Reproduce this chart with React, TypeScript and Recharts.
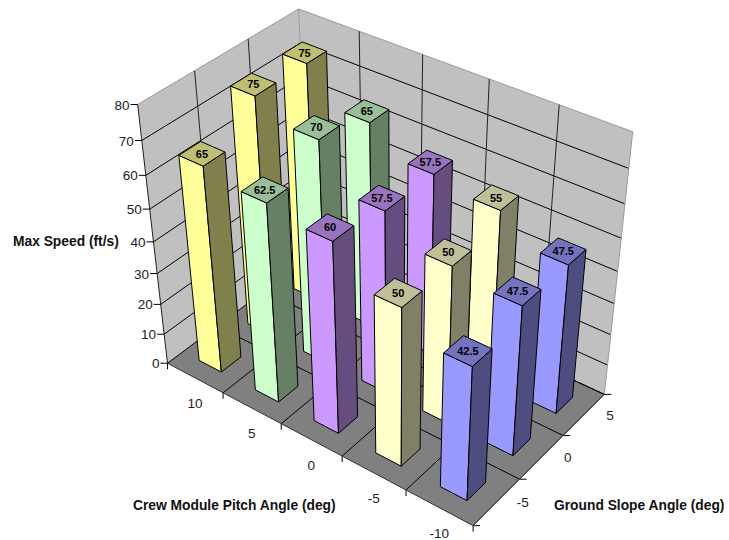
import * as React from "react"
import { ScatterChart, Scatter, XAxis, YAxis, Customized } from "recharts"

const CHART_W = 729
const CHART_H = 540

const pitchAngles = [10, 5, 0, -5, -10]
const slopeAngles = [-5, 0, 5]
const speedTicks = [0, 10, 20, 30, 40, 50, 60, 70, 80]

const speedAtPitch10 = [65, 75, 75]
const speedAtPitch5 = [62.5, 70, 65]
const speedAtPitch0 = [60, 57.5, 57.5]
const speedAtPitchMinus5 = [50, 50, 55]
const speedAtPitchMinus10 = [42.5, 47.5, 47.5]

const speedRows = [speedAtPitch10, speedAtPitch5, speedAtPitch0, speedAtPitchMinus5, speedAtPitchMinus10]
const pitchColors = ["#FFFF99", "#CCFFCC", "#CC99FF", "#FFFFCC", "#9999FF"]

const SPEED_MAX = 80
const BAR_DU = 0.08
const BAR_DV = 0.132

type Pt = [number, number]

// 3x4 camera for the box: u along pitch, v along slope, w up the speed axis (all 0..1)
const camX = [253.2639, 167.33276, -45.81048, 167.47899]
const camY = [104.2153, -83.68188, -270.87471, 363.24577]
const camZ = [-0.11068, 0.08378, -0.1161, 1]

function project(u: number, v: number, w: number): Pt {
  const d = camZ[0] * u + camZ[1] * v + camZ[2] * w + camZ[3]
  return [
    (camX[0] * u + camX[1] * v + camX[2] * w + camX[3]) / d,
    (camY[0] * u + camY[1] * v + camY[2] * w + camY[3]) / d,
  ]
}

const toPoints = (pts: Pt[]) => pts.map((p) => `${p[0].toFixed(2)},${p[1].toFixed(2)}`).join(" ")

function shade(hex: string, k: number) {
  const n = parseInt(hex.slice(1), 16)
  const c = [(n >> 16) & 255, (n >> 8) & 255, n & 255].map((v) => Math.round(v * k))
  return `rgb(${c[0]},${c[1]},${c[2]})`
}

function Line3D({ a, b, stroke = "#000", width = 1 }: { a: Pt; b: Pt; stroke?: string; width?: number }) {
  return <line x1={a[0]} y1={a[1]} x2={b[0]} y2={b[1]} stroke={stroke} strokeWidth={width} />
}

const FONT = "Liberation Sans, Arial, sans-serif"
const tickStyle = { fontFamily: FONT, fontSize: 13.5, fill: "#222" }
const titleStyle = { fontFamily: FONT, fontSize: 13.8, fontWeight: 700, fill: "#111" }
const EDGE = "#9a9a9a"

// walls, floor, grid, tick marks and titles
function Box3D() {
  const grid: React.ReactNode[] = []
  speedTicks.forEach((t) => {
    const w = t / SPEED_MAX
    grid.push(<Line3D key={`lw${t}`} a={project(0, 0, w)} b={project(0, 1, w)} stroke={t === SPEED_MAX ? EDGE : "#000"} />)
    grid.push(<Line3D key={`bw${t}`} a={project(0, 1, w)} b={project(1, 1, w)} stroke={t === SPEED_MAX ? EDGE : "#000"} />)
  })
  for (let i = 0; i <= pitchAngles.length; i++) {
    const u = i / pitchAngles.length
    if (i > 0) {
      grid.push(<Line3D key={`fu${i}`} a={project(u, 0, 0)} b={project(u, 1, 0)} />)
      grid.push(<Line3D key={`wu${i}`} a={project(u, 1, 0)} b={project(u, 1, 1)} stroke={i === pitchAngles.length ? EDGE : "#222"} />)
    }
    const p = project(u, 0, 0)
    grid.push(<Line3D key={`tu${i}`} a={p} b={[p[0], p[1] + 6]} />)
  }
  for (let j = 0; j <= slopeAngles.length; j++) {
    const v = j / slopeAngles.length
    if (j > 0) {
      grid.push(<Line3D key={`fv${j}`} a={project(0, v, 0)} b={project(1, v, 0)} />)
      grid.push(<Line3D key={`wv${j}`} a={project(0, v, 0)} b={project(0, v, 1)} stroke={j === slopeAngles.length ? EDGE : "#222"} />)
    }
    const p = project(1, v, 0)
    grid.push(<Line3D key={`tv${j}`} a={p} b={[p[0] + 7, p[1]]} />)
  }
  return (
    <g>
      <polygon points={toPoints([project(0, 0, 0), project(0, 1, 0), project(0, 1, 1), project(0, 0, 1)])} fill="#C0C0C0" />
      <polygon points={toPoints([project(0, 1, 0), project(1, 1, 0), project(1, 1, 1), project(0, 1, 1)])} fill="#C0C0C0" />
      <polygon points={toPoints([project(0, 0, 0), project(1, 0, 0), project(1, 1, 0), project(0, 1, 0)])} fill="#808080" />
      {grid}
      <Line3D a={project(0, 0, 0)} b={project(0, 0, 1)} stroke="#222" />
      <Line3D a={project(0, 0, 0)} b={project(1, 0, 0)} stroke="#333" />
      <Line3D a={project(1, 0, 0)} b={project(1, 1, 0)} stroke="#555" />
      {speedTicks.map((t) => {
        const p = project(0, 0, t / SPEED_MAX)
        return (
          <g key={t}>
            <Line3D a={[p[0] - 7, p[1]]} b={p} />
            <text x={p[0] - 8} y={p[1] + 5} textAnchor="end" {...tickStyle}>{t}</text>
          </g>
        )
      })}
      {pitchAngles.map((a, i) => {
        const p = project((i + 0.5) / pitchAngles.length, 0, 0)
        return <text key={a} x={p[0]} y={p[1] + 30} textAnchor="middle" {...tickStyle}>{a}</text>
      })}
      {slopeAngles.map((a, j) => {
        const p = project(1, (j + 0.5) / slopeAngles.length, 0)
        return <text key={a} x={p[0] + 26} y={p[1] + 5} textAnchor="middle" {...tickStyle}>{a}</text>
      })}
      <text x={13} y={246} {...titleStyle}>Max Speed (ft/s)</text>
      <text x={133} y={510} {...titleStyle}>Crew Module Pitch Angle (deg)</text>
      <text x={554} y={510} {...titleStyle}>Ground Slope Angle (deg)</text>
    </g>
  )
}

// one column: left face, right face, cap and its value label
function BarShape(props: any) {
  const { cx, cy, payload, fill } = props
  const { uc, vc, speed } = payload
  const w = speed / SPEED_MAX
  const base = project(uc, vc, 0)
  const ox = cx - base[0]
  const oy = cy - base[1]
  const at = (u: number, v: number, ww: number): Pt => {
    const p = project(u, v, ww)
    return [p[0] + ox, p[1] + oy]
  }
  const u0 = uc - BAR_DU / 2
  const u1 = uc + BAR_DU / 2
  const v0 = vc - BAR_DV / 2
  const v1 = vc + BAR_DV / 2
  const label = at(uc, vc, w)
  return (
    <g>
      <polygon points={toPoints([at(u0, v0, 0), at(u1, v0, 0), at(u1, v0, w), at(u0, v0, w)])} fill={fill} stroke="#000" />
      <polygon points={toPoints([at(u1, v0, 0), at(u1, v1, 0), at(u1, v1, w), at(u1, v0, w)])} fill={shade(fill, 0.5)} stroke="#000" />
      <polygon points={toPoints([at(u0, v0, w), at(u1, v0, w), at(u1, v1, w), at(u0, v1, w)])} fill={shade(fill, 0.75)} stroke="#000" />
      <text x={label[0]} y={label[1] + 4} textAnchor="middle" fontFamily={FONT} fontSize={11} fontWeight={700} fill="#000">
        {speed}
      </text>
    </g>
  )
}

// far columns first so nearer ones paint over them
function rowData(row: number[], i: number) {
  return row
    .map((speed, j) => {
      const uc = (i + 0.5) / pitchAngles.length
      const vc = (j + 0.5) / slopeAngles.length
      const [x, y] = project(uc, vc, 0)
      return { x, y, uc, vc, speed }
    })
    .reverse()
}

export default function App() {
  return (
    <div style={{ position: "absolute", left: 0, top: 0, width: CHART_W, height: CHART_H, background: "#fff" }}>
      <ScatterChart width={CHART_W} height={CHART_H} margin={{ top: 0, right: 0, bottom: 0, left: 0 }}>
        <XAxis type="number" dataKey="x" domain={[0, CHART_W]} hide />
        <YAxis type="number" dataKey="y" domain={[0, CHART_H]} reversed hide />
        <Customized component={Box3D} />
        {speedRows.map((row, i) => (
          <Scatter
            key={pitchAngles[i]}
            name={String(pitchAngles[i])}
            data={rowData(row, i)}
            fill={pitchColors[i]}
            shape={BarShape}
            isAnimationActive={false}
          />
        ))}
      </ScatterChart>
    </div>
  )
}
